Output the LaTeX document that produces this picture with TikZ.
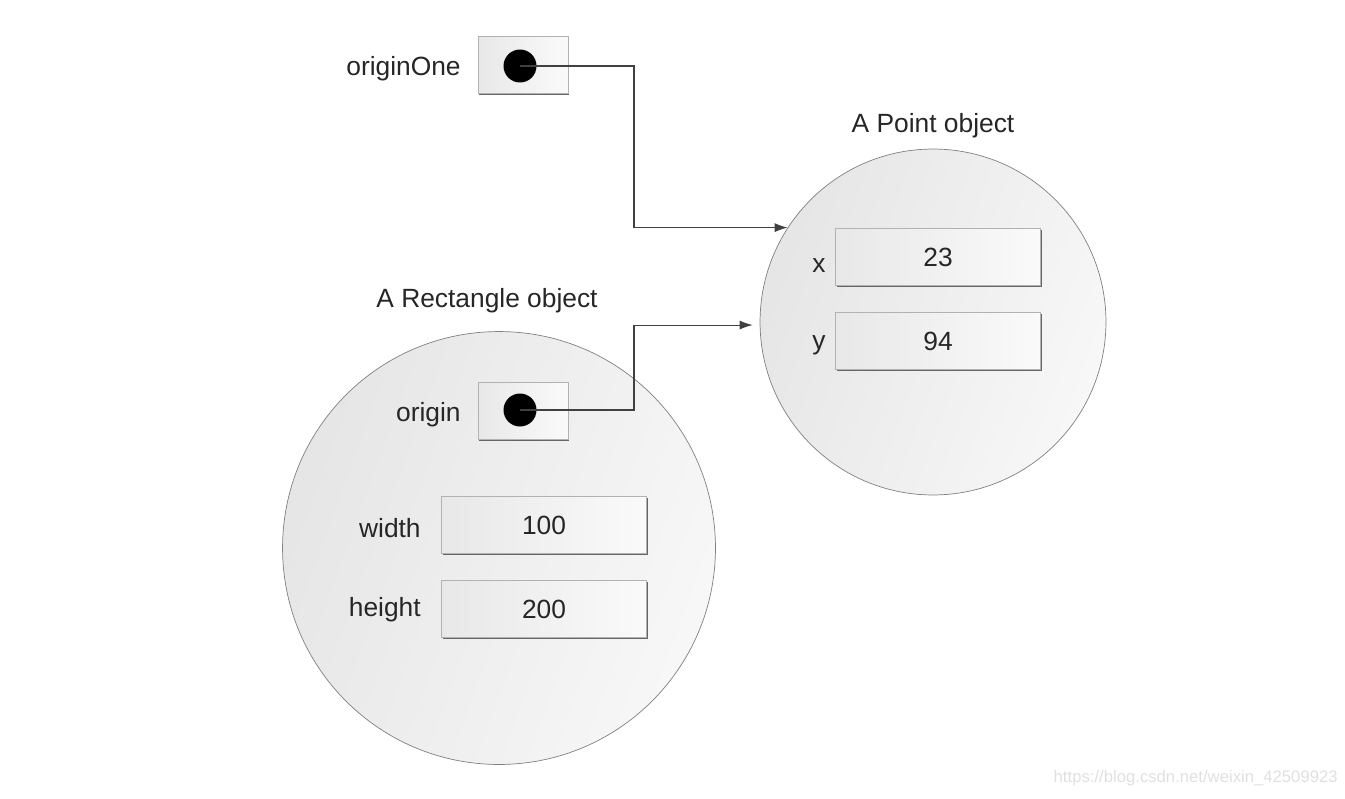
\documentclass[tikz,border=0pt]{standalone}
\usepackage{fontspec}
\setmainfont{Liberation Sans}
\usetikzlibrary{arrows.meta,positioning,shadows}

\begin{document}
\begin{tikzpicture}[
    x=0.02cm, y=-0.02cm,
    >={Latex[length=2.6mm,width=1.8mm]},
    font=\fontsize{15}{18}\selectfont, text=black!85,
    obj/.style={circle,draw=black!50,thin,left color=black!10,right color=black!3,shading angle=70},
    ref/.style={draw=black!30,thin,left color=black!9,right color=black!2,minimum width=1.8cm,minimum height=1.14cm,inner sep=0pt,
        drop shadow={shadow xshift=0.7pt,shadow yshift=-0.7pt,fill=black!60,opacity=1}},
    field/.style={ref,minimum width=4.1cm},
    dot/.style={circle,fill=black,minimum size=0.66cm,inner sep=0pt},
    lbl/.style={inner sep=0pt,anchor=base east},
    ttl/.style={inner sep=0pt,anchor=base},
    arr/.style={->,semithick,draw=black!75},
]
\useasboundingbox (0,0) rectangle (1345,798);

% ================= the Point object =================
\node[obj,minimum size=6.92cm] (pnt) at (933,322) {};
\node[ttl] (pnttl) at (933,132) {A Point object};
\node[field] (xbox) at (938,257) {23};
\node[field] (ybox) at (938,341) {94};
\node[lbl] (xlbl) at (826,272) {x};
\node[lbl] (ylbl) at (826,349) {y};

% ================= the Rectangle object =================
\node[obj,minimum size=8.66cm] (rect) at (499,548) {};
\node[ttl] (recttl) at (487,307) {A Rectangle object};
\node[ref] (orgbox) at (523,411) {};
\node[dot] (orgdot) at (520,410) {};
\node[lbl] (orglbl) at (461,421) {origin};
\node[field] (wbox) at (544,525) {100};
\node[field] (hbox) at (544,609) {200};
\node[lbl] (wlbl) at (421,537) {width};
\node[lbl] (hlbl) at (421,616) {height};

% ================= the originOne variable =================
\node[ref] (onebox) at (523,65) {};
\node[dot] (onedot) at (520,66) {};
\node[lbl] (onelbl) at (461,75) {originOne};

% references
\coordinate (kneeA) at (634,0);
\coordinate (kneeB) at (634,0);
\draw[arr] (onedot.center) -- (onedot.center -| kneeA) |- (pnt.147);
\draw[arr,shorten >=4pt] (orgdot.center) -- (orgdot.center -| kneeB) |- (pnt.181);

\node[text=black!12,font=\fontsize{9.5}{11}\selectfont,anchor=east,inner sep=0pt] (wm) at (1338,778) {https://blog.csdn.net/weixin\_42509923};
\end{tikzpicture}
\end{document}
